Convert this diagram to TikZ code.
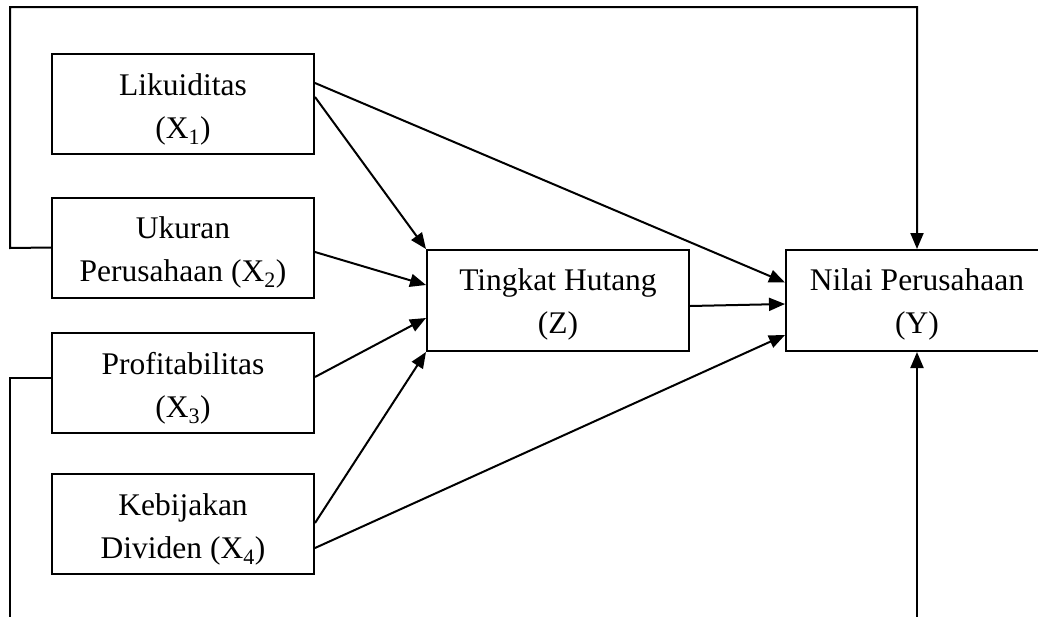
\documentclass[tikz,border=0pt]{standalone}
\usepackage{fontspec}
\setmainfont{Liberation Serif}
\usetikzlibrary{arrows.meta,calc}
\begin{document}
\begin{tikzpicture}[x=1pt,y=-1pt,
  box/.style={draw,line width=2pt,minimum width=262pt,minimum height=100pt,inner sep=0pt},
  txt/.style={align=center,inner sep=0pt,font=\fontsize{31.5}{43}\selectfont},
  conn/.style={line width=2pt,-{Triangle[length=16pt,width=13pt]}},
  loop/.style={line width=2pt}]
\useasboundingbox (0,0) rectangle (1038,616);
\clip (0,0) rectangle (1038,616);
\fill[white] (0,0) rectangle (1038,616);
% boxes
\node[box] (x1) at (183,104) {};
\node[box] (x2) at (183,247.5) {};
\node[box] (x3) at (183,383) {};
\node[box] (x4) at (183,524) {};
\node[box,minimum height=101pt] (z) at (558,300.5) {};
\node[box,minimum height=101pt] (y) at (917,300.5) {};
% texts
\node[txt] (t1) at ([yshift=-5pt]x1.center) {Likuiditas\\(X\textsubscript{1})};
\node[txt] (t2) at ([yshift=-5pt]x2.center) {Ukuran\\Perusahaan (X\textsubscript{2})};
\node[txt] (t3) at ([yshift=-5pt]x3.center) {Profitabilitas\\(X\textsubscript{3})};
\node[txt] (t4) at ([yshift=-5pt]x4.center) {Kebijakan\\Dividen (X\textsubscript{4})};
\node[txt] (tz) at ([yshift=-4pt]z.center) {Tingkat Hutang\\(Z)};
\node[txt] (ty) at ([yshift=-4pt]y.center) {Nilai Perusahaan\\(Y)};
% loop coordinates
\coordinate (tl) at (10,7);
\coordinate (tr) at (y.north |- tl);
\coordinate (l2) at (10,248);
\coordinate (l3) at (10,378);
\coordinate (bl) at (10,640);
\coordinate (br) at (y.south |- bl);
% loops
\draw[conn] (x2.west) -- (l2) -- (tl) -- (tr) -- (y.north);
\draw[conn] ([yshift=5pt]x3.west) -- (l3) -- (bl) -- (br) -- (y.south);
% arrows
\draw[conn] ([yshift=21pt]x1.east) -- ([yshift=18pt]y.west);
\draw[conn] ([yshift=7pt]x1.east) -- (z.north west);
\draw[conn] ([yshift=-4.5pt]x2.east) -- ([yshift=15.5pt]z.west);
\draw[conn] ([yshift=6pt]x3.east) -- ([yshift=-17.5pt]z.west);
\draw[conn] ([yshift=1pt]x4.east) -- (z.south west);
\draw[conn] ([yshift=-24pt]x4.east) -- ([yshift=-34.5pt]y.west);
\draw[conn] ([yshift=-5.5pt]z.east) -- ([yshift=-3.5pt]y.west);
\end{tikzpicture}
\end{document}
